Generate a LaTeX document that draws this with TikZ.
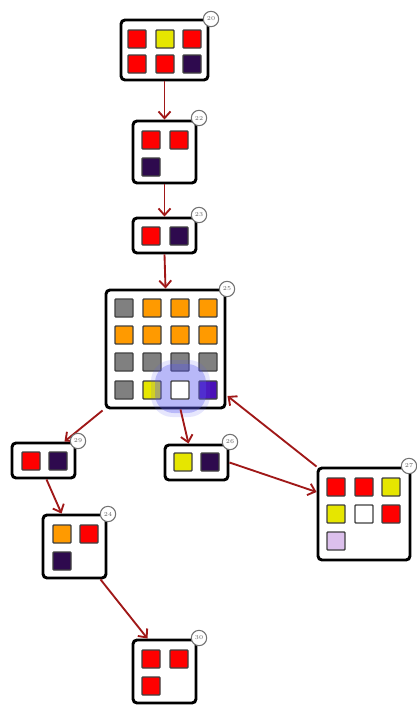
\documentclass[tikz,border=0pt]{standalone}
\usetikzlibrary{arrows.meta,calc}
\definecolor{cred}{HTML}{FF0000}
\definecolor{cyel}{HTML}{E6E600}
\definecolor{cdark}{HTML}{2E0A4E}
\definecolor{corange}{HTML}{FF9A00}
\definecolor{cgray}{HTML}{808080}
\definecolor{cviolet}{HTML}{4A10B8}
\definecolor{clav}{HTML}{DCC0EC}
\definecolor{cedge}{HTML}{A01818}
\definecolor{cglow}{HTML}{5A5AF0}
\tikzset{
  box/.style={draw=black, line width=2.2pt, rounded corners=3pt, fill=white, inner sep=0pt},
  sq/.style={draw=black!75, line width=1.1pt, rounded corners=0.6pt, minimum size=13.5pt, inner sep=0pt},
  lbl/.style={circle, draw=black!55, line width=0.8pt, fill=white, minimum size=11.5pt, inner sep=0pt, font=\fontsize{4.5}{4.5}\selectfont, text=black!60},
  edge/.style={draw=cedge, line width=1.4pt, -{Straight Barb[length=5pt,width=9pt,line width=1.4pt]}}
}
\begin{document}
\begin{tikzpicture}[x=0.75pt,y=-0.75pt]
\useasboundingbox (0,0) rectangle (417,707);
% boxes
\node[box, minimum width=65.25pt, minimum height=45pt] (b20) at (164.5,50) {};
\node[box, minimum width=47.25pt, minimum height=46.5pt] (b22) at (164.5,152) {};
\node[box, minimum width=47.25pt, minimum height=26.25pt] (b23) at (164.5,235.5) {};
\node[box, minimum width=89.25pt, minimum height=88.5pt] (b25) at (165.5,349) {};
\node[box, minimum width=47.25pt, minimum height=26.25pt] (b29) at (43.5,460.5) {};
\node[box, minimum width=47.25pt, minimum height=26.25pt] (b26) at (196.5,462.5) {};
\node[box, minimum width=69pt, minimum height=69pt] (b27) at (364,514) {};
\node[box, minimum width=47.25pt, minimum height=47.25pt] (b24) at (74.5,546.5) {};
\node[box, minimum width=47.25pt, minimum height=47.25pt] (b30) at (164.5,671.5) {};
% node 20
\node[sq, fill=cred] (s20a) at (137,39) {};
\node[sq, fill=cyel] (s20b) at (165,39) {};
\node[sq, fill=cred] (s20c) at (192,39) {};
\node[sq, fill=cred] (s20d) at (137,64) {};
\node[sq, fill=cred] (s20e) at (165,64) {};
\node[sq, fill=cdark] (s20f) at (192,64) {};
% node 22
\node[sq, fill=cred] (s22a) at (151,140) {};
\node[sq, fill=cred] (s22b) at (179,140) {};
\node[sq, fill=cdark] (s22c) at (151,167) {};
% node 23
\node[sq, fill=cred] (s23a) at (151,236) {};
\node[sq, fill=cdark] (s23b) at (179,236) {};
% node 25
\node[sq, fill=cgray] (s25a) at (124,308) {};
\node[sq, fill=corange] (s25b) at (152,308) {};
\node[sq, fill=corange] (s25c) at (180,308) {};
\node[sq, fill=corange] (s25d) at (208,308) {};
\node[sq, fill=corange] (s25e) at (124,335) {};
\node[sq, fill=corange] (s25f) at (152,335) {};
\node[sq, fill=corange] (s25g) at (180,335) {};
\node[sq, fill=corange] (s25h) at (208,335) {};
\node[sq, fill=cgray] (s25i) at (124,362) {};
\node[sq, fill=cgray] (s25j) at (152,362) {};
\node[sq, fill=cgray] (s25k) at (180,362) {};
\node[sq, fill=cgray] (s25l) at (208,362) {};
\node[sq, fill=cgray] (s25m) at (124,390) {};
\node[sq, fill=cyel] (s25n) at (152,390) {};
\node[sq, fill=cviolet] (s25p) at (208,390) {};
\fill[cglow, opacity=0.32, rounded corners=14pt] (155,364) rectangle (206,413);
\fill[cglow, opacity=0.15, rounded corners=16pt] (151,360) rectangle (210,417);
\node[sq, fill=white] (s25o) at (180,390) {};
% node 29
\node[sq, fill=cred] (s29a) at (31,461) {};
\node[sq, fill=cdark] (s29b) at (58,461) {};
% node 26
\node[sq, fill=cyel] (s26a) at (183,462) {};
\node[sq, fill=cdark] (s26b) at (210,462) {};
% node 27
\node[sq, fill=cred] (s27a) at (336,487) {};
\node[sq, fill=cred] (s27b) at (364,487) {};
\node[sq, fill=cyel] (s27c) at (391,487) {};
\node[sq, fill=cyel] (s27d) at (336,514) {};
\node[sq, fill=white] (s27e) at (364,514) {};
\node[sq, fill=cred] (s27f) at (391,514) {};
\node[sq, fill=clav] (s27g) at (336,541) {};
% node 24
\node[sq, fill=corange] (s24a) at (62,534) {};
\node[sq, fill=cred] (s24b) at (89,534) {};
\node[sq, fill=cdark] (s24c) at (62,561) {};
% node 30
\node[sq, fill=cred] (s30a) at (151,659) {};
\node[sq, fill=cred] (s30b) at (179,659) {};
\node[sq, fill=cred] (s30c) at (151,686) {};
% edges
\draw[edge] (b20.south) -- (b22.north);
\draw[edge] (b22.south) -- (b23.north);
\draw[edge] (b23.south) -- (b25.north);
\draw[edge] ($(b25.south west)+(-2,1)$) -- ($(b29.north)+(21,0)$);
\draw[edge] ($(b25.south)+(15,0)$) -- ($(b26.north)+(-8,0)$);
\draw[edge] (b27.north west) -- ($(b25.east)+(1,47)$);
\draw[edge] (b26.east) -- ($(b27.west)+(0,-22)$);
\draw[edge] ($(b29.south)+(3,0)$) -- ($(b24.north)+(-13,0)$);
\draw[edge] ($(b24.south)+(26,0)$) -- ($(b30.north)+(-17,0)$);
% labels
\node[lbl] (l20) at (211,19) {20};
\node[lbl] (l22) at (199,118) {22};
\node[lbl] (l23) at (199,215) {23};
\node[lbl] (l25) at (227,289) {25};
\node[lbl] (l29) at (78,441) {29};
\node[lbl] (l26) at (230,442) {26};
\node[lbl] (l27) at (409,466) {27};
\node[lbl] (l24) at (108,514) {24};
\node[lbl] (l30) at (199,638) {30};
\end{tikzpicture}
\end{document}
